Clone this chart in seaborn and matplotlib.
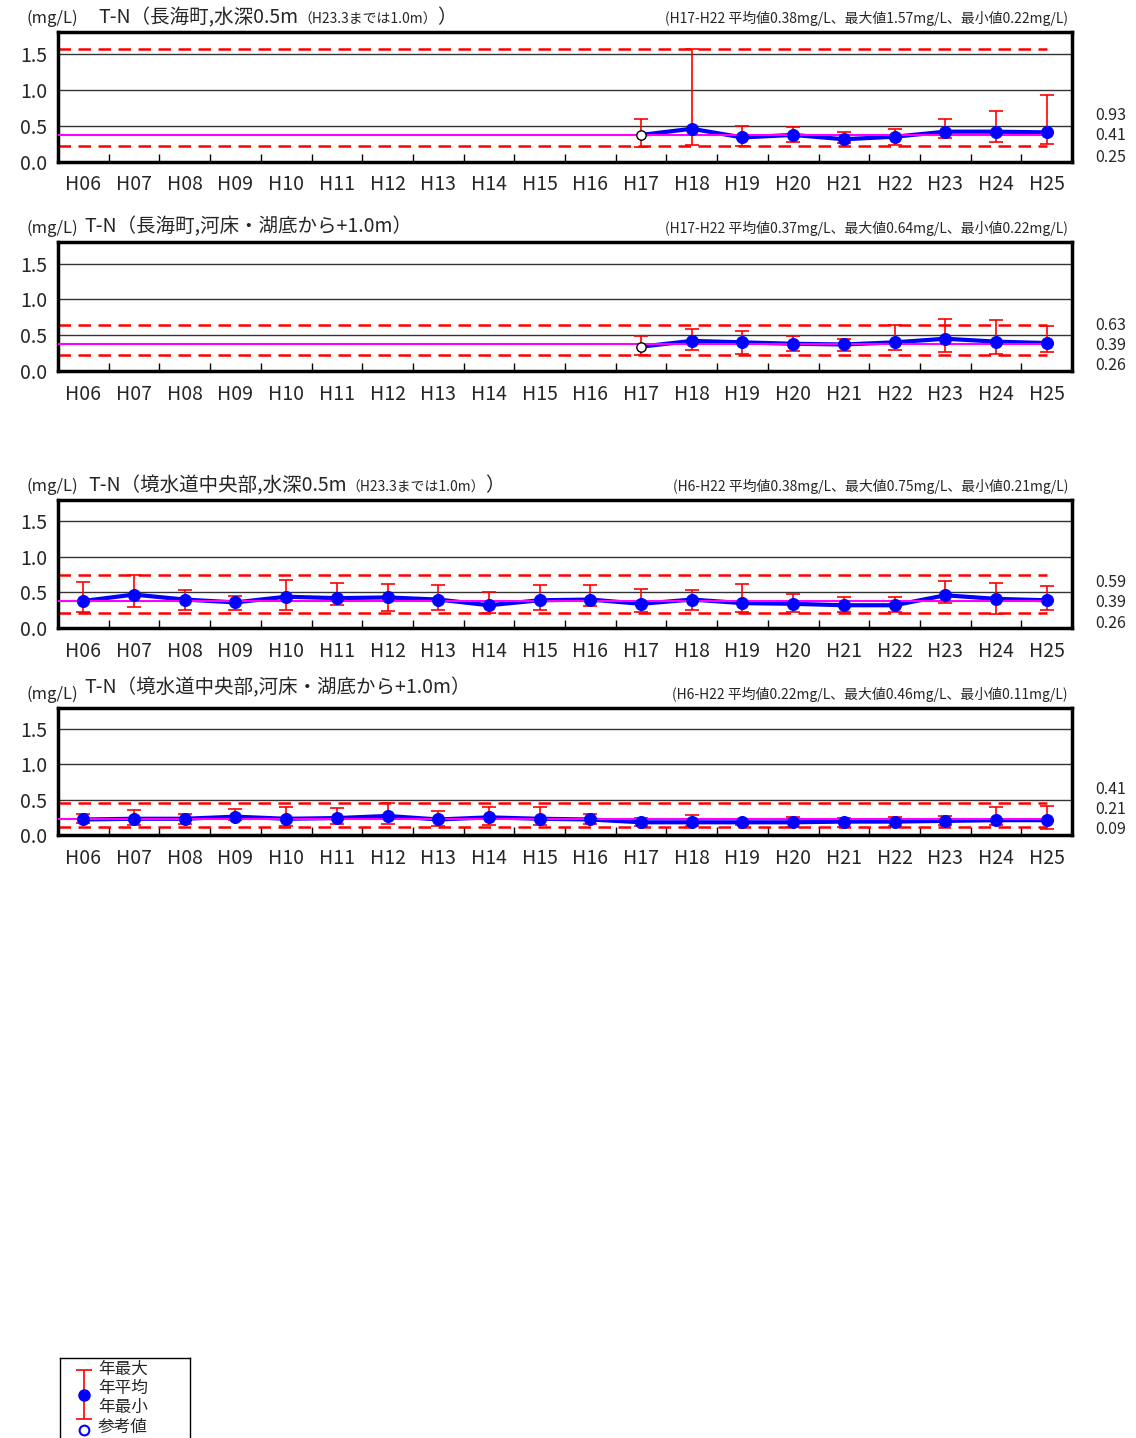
import numpy as np
import pandas as pd
import seaborn as sns
import matplotlib.pyplot as plt

sns.set_style("white")
plt.rcParams['font.family'] = ['Noto Sans CJK JP', 'DejaVu Sans']

years = ['H06', 'H07', 'H08', 'H09', 'H10', 'H11', 'H12', 'H13', 'H14', 'H15',
         'H16', 'H17', 'H18', 'H19', 'H20', 'H21', 'H22', 'H23', 'H24', 'H25']
N = None

# 長海町 水深0.5m
p1_mean = [N, N, N, N, N, N, N, N, N, N, N, 0.375, 0.46, 0.34, 0.375, 0.315, 0.35, 0.42, 0.42, 0.41]
p1_max = [N, N, N, N, N, N, N, N, N, N, N, 0.59, 1.57, 0.50, 0.48, 0.41, 0.46, 0.60, 0.70, 0.93]
p1_min = [N, N, N, N, N, N, N, N, N, N, N, 0.21, 0.24, 0.22, 0.28, 0.26, 0.23, 0.33, 0.28, 0.25]
p1_ref = [0.38, 1.57, 0.22]

# 長海町 河床・湖底から+1.0m
p2_mean = [N, N, N, N, N, N, N, N, N, N, N, 0.34, 0.42, 0.40, 0.38, 0.37, 0.40, 0.45, 0.41, 0.39]
p2_max = [N, N, N, N, N, N, N, N, N, N, N, 0.49, 0.59, 0.56, 0.49, 0.45, 0.64, 0.72, 0.71, 0.63]
p2_min = [N, N, N, N, N, N, N, N, N, N, N, 0.23, 0.29, 0.24, 0.28, 0.28, 0.29, 0.27, 0.24, 0.26]
p2_ref = [0.37, 0.64, 0.22]

# 境水道中央部 水深0.5m
p3_mean = [0.38, 0.47, 0.40, 0.36, 0.44, 0.42, 0.43, 0.40, 0.32, 0.39,
           0.40, 0.34, 0.40, 0.35, 0.34, 0.32, 0.32, 0.46, 0.41, 0.39]
p3_max = [0.64, 0.75, 0.54, 0.45, 0.67, 0.63, 0.62, 0.60, 0.50, 0.60,
          0.61, 0.55, 0.53, 0.62, 0.48, 0.43, 0.43, 0.66, 0.63, 0.59]
p3_min = [0.22, 0.30, 0.25, 0.26, 0.25, 0.32, 0.24, 0.26, 0.21, 0.26,
          0.31, 0.23, 0.25, 0.22, 0.23, 0.22, 0.22, 0.35, 0.19, 0.26]
p3_ref = [0.38, 0.75, 0.21]

# 境水道中央部 河床・湖底から+1.0m
p4_mean = [0.22, 0.23, 0.23, 0.26, 0.23, 0.24, 0.27, 0.22, 0.25, 0.23,
           0.22, 0.18, 0.18, 0.18, 0.18, 0.19, 0.19, 0.20, 0.21, 0.21]
p4_max = [0.30, 0.36, 0.30, 0.37, 0.39, 0.38, 0.46, 0.34, 0.39, 0.39,
          0.30, 0.24, 0.28, 0.23, 0.25, 0.24, 0.25, 0.27, 0.39, 0.41]
p4_min = [0.17, 0.14, 0.15, 0.21, 0.13, 0.16, 0.15, 0.13, 0.14, 0.14,
          0.15, 0.13, 0.13, 0.14, 0.11, 0.12, 0.13, 0.14, 0.14, 0.09]
p4_ref = [0.22, 0.46, 0.11]

# 参考値 (open marker)
p12_flag = ['H17']

titles = [
    ('T-N（長海町,水深0.5m', '（H23.3までは1.0m）', '）'),
    ('T-N（長海町,河床・湖底から+1.0m）', '', ''),
    ('T-N（境水道中央部,水深0.5m', '（H23.3までは1.0m）', '）'),
    ('T-N（境水道中央部,河床・湖底から+1.0m）', '', ''),
]
periods = ['H17-H22', 'H17-H22', 'H6-H22', 'H6-H22']

W, H = 1136, 1438
fig = plt.figure(figsize=(W / 100, H / 100), dpi=100)


def fx(x):
    return x / W


def fy(y):
    return 1 - y / H


# axes boxes in pixels: (top, bottom)
boxes = [(32, 162), (242, 371), (500, 628), (708, 835)]
title_x = [98, 84, 88, 84]
title_dy = [14, 15, 14, 20]
panels = [(p1_mean, p1_max, p1_min, p1_ref, p12_flag),
          (p2_mean, p2_max, p2_min, p2_ref, p12_flag),
          (p3_mean, p3_max, p3_min, p3_ref, []),
          (p4_mean, p4_max, p4_min, p4_ref, [])]

for i, (mean, mx, mn, ref, flag) in enumerate(panels):
    top, bot = boxes[i]
    ax = fig.add_axes([fx(58), fy(bot), fx(1072 - 58), (bot - top) / H])
    df = pd.DataFrame({'year': years, 'pos': np.arange(len(years)),
                       'mean': pd.to_numeric(mean), 'max': pd.to_numeric(mx),
                       'min': pd.to_numeric(mn)})
    df['ref'] = df['year'].isin(flag)
    d = df.dropna(subset=['mean'])

    ax.set_xlim(-0.5, 19.5)
    ax.set_ylim(0, 1.8)
    for v in (0.5, 1.0, 1.5):
        ax.axhline(v, color='#333333', lw=1, zorder=1)
    ax.hlines([ref[1], ref[2]], -0.5, 19, colors='red',
              linestyles=(0, (5, 3)), lw=1.8, zorder=2)
    ax.errorbar(d['pos'], d['mean'],
                yerr=[d['mean'] - d['min'], d['max'] - d['mean']],
                fmt='none', ecolor='red', elinewidth=1.2, capsize=5,
                capthick=1.2, zorder=3)
    sns.lineplot(data=d, x='pos', y='mean', color='blue', lw=3, ax=ax, zorder=4)
    ax.hlines(ref[0], -0.5, 19, colors='#FF00FF', lw=1.5, zorder=5)
    sns.scatterplot(data=d[~d['ref']], x='pos', y='mean', color='blue',
                    edgecolor='blue', s=75, ax=ax, zorder=6)
    if d['ref'].any():
        sns.scatterplot(data=d[d['ref']], x='pos', y='mean', color='white',
                        edgecolor='black', linewidth=1, s=45, ax=ax, zorder=6)
    ax.set_xlabel('')
    ax.set_ylabel('')

    ax.set_xticks(np.arange(len(years)))
    ax.set_xticklabels(years, fontsize=14)
    ax.set_xticks(np.arange(0.5, 19, 1), minor=True)
    ax.tick_params(axis='x', which='major', length=0, pad=9)
    ax.tick_params(axis='x', which='minor', direction='in', length=6,
                   width=1, color='black', bottom=True)
    ax.set_yticks([0, 0.5, 1.0, 1.5])
    ax.set_yticklabels(['0.0', '0.5', '1.0', '1.5'], fontsize=14)
    ax.tick_params(axis='y', length=0, pad=8)
    for s in ax.spines.values():
        s.set_visible(True)
        s.set_color('black')
        s.set_linewidth(2.5)

    # H25 values at right
    last = df.iloc[-1]
    for v, off in zip([last['max'], last['mean'], last['min']], [46, 26, 5]):
        ax.annotate(f'{v:.2f}', xy=(1, 0), xycoords='axes fraction',
                    xytext=(23, off), textcoords='offset pixels',
                    ha='left', va='center', fontsize=11.5)

    # headers
    fig.text(fx(27), fy(top - 14), '(mg/L)', fontsize=12, va='center')
    t1 = fig.text(fx(title_x[i]), fy(top - title_dy[i]), titles[i][0],
                  fontsize=14, va='center')
    if titles[i][1]:
        t2 = ax.annotate(titles[i][1], xy=(1, 0.1), xycoords=t1,
                         fontsize=10, va='bottom', ha='left',
                         annotation_clip=False)
        ax.annotate(titles[i][2], xy=(1, -0.1), xycoords=t2,
                    fontsize=14, va='bottom', ha='left', annotation_clip=False)
    fig.text(fx(1068), fy(top - 14),
             f'({periods[i]} 平均値{ref[0]:.2f}mg/L、最大値{ref[1]:.2f}mg/L、最小値{ref[2]:.2f}mg/L)',
             fontsize=10, va='center', ha='right')

# legend box
lax = fig.add_axes([fx(60), fy(1445), fx(130), 87 / H])
lax.set_xlim(0, 130)
lax.set_ylim(87, 0)
lax.set_xticks([])
lax.set_yticks([])
for s in lax.spines.values():
    s.set_visible(True)
    s.set_color('black')
    s.set_linewidth(1)
lax.errorbar([24], [37], yerr=[[25], [24]], fmt='o', color='blue', ms=8,
             ecolor='red', elinewidth=1.2, capsize=6, capthick=1.2)
lax.plot([24], [72], 'o', mfc='white', mec='blue', mew=1.5, ms=7)
for t, y in zip(['年最大', '年平均', '年最小', '参考値'], [11, 30, 49, 69]):
    lax.text(38, y, t, fontsize=12, va='center', ha='left')

fig.savefig('out.png', dpi=100)
